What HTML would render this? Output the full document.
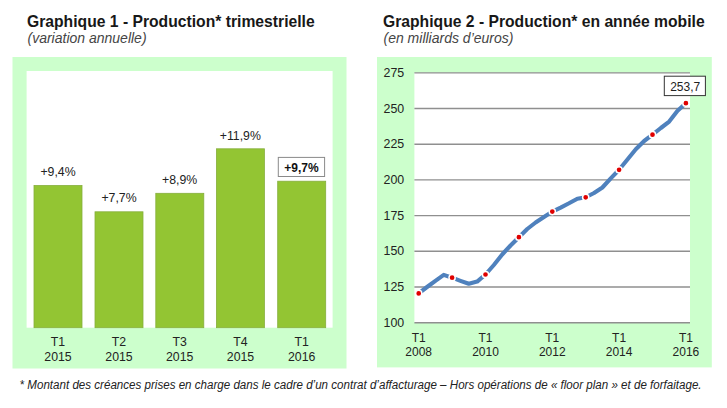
<!DOCTYPE html>
<html><head><meta charset="utf-8">
<style>
html,body{margin:0;padding:0;background:#fff;width:727px;height:408px;overflow:hidden}
svg{display:block}
text{font-family:"Liberation Sans",sans-serif}
</style></head><body>
<svg width="727" height="408" viewBox="0 0 727 408">
<rect x="0" y="0" width="727" height="408" fill="#fff"/>
<!-- titles -->
<text x="27" y="26.6" font-size="15.7" font-weight="bold" fill="#181818">Graphique 1 - Production* trimestrielle</text>
<text x="27.5" y="43.2" font-size="14" font-style="italic" fill="#454545">(variation annuelle)</text>
<text x="383" y="26.6" font-size="15.7" font-weight="bold" fill="#181818">Graphique 2 - Production* en année mobile</text>
<text x="383.5" y="43.2" font-size="14" font-style="italic" fill="#454545">(en milliards d’euros)</text>

<!-- left chart -->
<rect x="12.5" y="57" width="334" height="311.5" fill="#ccffcc"/>
<rect x="26.6" y="71" width="306" height="256.7" fill="#fff"/>
<g fill="#93c533" stroke="#86ae3c" stroke-width="0.8">
<rect x="34" y="185.5" width="48" height="142.2"/>
<rect x="95" y="211.8" width="48" height="115.9"/>
<rect x="155.8" y="193.3" width="48" height="134.4"/>
<rect x="216.4" y="148.8" width="48" height="178.9"/>
<rect x="277.7" y="181.2" width="48" height="146.5"/>
</g>
<g font-size="12.3" fill="#222" text-anchor="middle">
<text x="58" y="176.3">+9,4%</text>
<text x="119" y="201.7">+7,7%</text>
<text x="179.7" y="183.6">+8,9%</text>
<text x="240.3" y="139.6">+11,9%</text>
</g>
<rect x="278.3" y="157.4" width="46.3" height="19.1" fill="#fff" stroke="#8a8a8a" stroke-width="1"/>
<text x="301.5" y="171.8" font-size="12" font-weight="bold" fill="#111" text-anchor="middle">+9,7%</text>
<g font-size="12.3" fill="#222" text-anchor="middle">
<text x="58" y="346.4">T1</text><text x="58" y="360.5">2015</text>
<text x="119" y="346.4">T2</text><text x="119" y="360.5">2015</text>
<text x="179.7" y="346.4">T3</text><text x="179.7" y="360.5">2015</text>
<text x="240.5" y="346.4">T4</text><text x="240.5" y="360.5">2015</text>
<text x="301.7" y="346.4">T1</text><text x="301.7" y="360.5">2016</text>
</g>

<!-- right chart -->
<rect x="377" y="57" width="334.8" height="310.4" fill="#ccffcc"/>
<rect x="414.4" y="72.7" width="275.6" height="249.8" fill="#fff"/>
<g stroke="#8f8f8f" stroke-width="1.4">
<line x1="414.4" x2="690" y1="72.85" y2="72.85"/>
<line x1="414.4" x2="690" y1="108.54" y2="108.54"/>
<line x1="414.4" x2="690" y1="144.23" y2="144.23"/>
<line x1="414.4" x2="690" y1="179.92" y2="179.92"/>
<line x1="414.4" x2="690" y1="215.61" y2="215.61"/>
<line x1="414.4" x2="690" y1="251.30" y2="251.30"/>
<line x1="414.4" x2="690" y1="286.99" y2="286.99"/>
<line x1="414.4" x2="690" y1="322.68" y2="322.68"/>
</g>
<g font-size="12.4" fill="#222" text-anchor="end">
<text x="404.2" y="76.8">275</text>
<text x="404.2" y="112.5">250</text>
<text x="404.2" y="148.2">225</text>
<text x="404.2" y="183.9">200</text>
<text x="404.2" y="219.6">175</text>
<text x="404.2" y="255.3">150</text>
<text x="404.2" y="291">125</text>
<text x="404.2" y="326.6">100</text>
</g>
<g font-size="12" fill="#222" text-anchor="middle">
<text x="418.7" y="341.6">T1</text><text x="418.7" y="355.6">2008</text>
<text x="485.5" y="341.6">T1</text><text x="485.5" y="355.6">2010</text>
<text x="552.3" y="341.6">T1</text><text x="552.3" y="355.6">2012</text>
<text x="619.1" y="341.6">T1</text><text x="619.1" y="355.6">2014</text>
<text x="685.9" y="341.6">T1</text><text x="685.9" y="355.6">2016</text>
</g>
<polyline fill="none" stroke="#4f81bd" stroke-width="4.1" stroke-linejoin="round" stroke-linecap="round"
 points="418.70,293.40 427.05,287.00 435.40,280.80 443.75,274.90 452.10,277.70 460.45,280.80 468.80,283.80 477.15,281.60 485.50,274.50 493.85,265.00 502.20,254.50 510.55,245.50 518.90,237.20 527.25,229.00 535.60,222.50 543.95,217.00 552.30,211.60 560.65,207.60 569.00,203.30 577.35,198.70 585.70,197.30 594.05,193.00 602.40,187.50 610.75,178.40 619.10,169.80 627.45,159.50 635.80,149.20 644.15,141.00 652.50,134.70 660.85,128.00 669.20,121.60 677.55,110.80 685.90,103.20"/>
<g fill="#e00000" stroke="#fff" stroke-width="1.5">
<circle cx="418.7" cy="293.4" r="3.1"/>
<circle cx="452.1" cy="277.7" r="3.1"/>
<circle cx="485.5" cy="274.5" r="3.1"/>
<circle cx="518.9" cy="237.2" r="3.1"/>
<circle cx="552.3" cy="211.6" r="3.1"/>
<circle cx="585.7" cy="197.3" r="3.1"/>
<circle cx="619.1" cy="169.8" r="3.1"/>
<circle cx="652.5" cy="134.7" r="3.1"/>
<circle cx="685.9" cy="103.2" r="3.1"/>
</g>
<rect x="664.3" y="76.2" width="41.1" height="19.4" fill="#fff" stroke="#333" stroke-width="1"/>
<text x="685.2" y="90.9" font-size="12" fill="#222" text-anchor="middle">253,7</text>

<!-- footnote -->
<text x="19.6" y="389.3" font-size="12.5" font-style="italic" fill="#222" textLength="682" lengthAdjust="spacingAndGlyphs">* Montant des créances prises en charge dans le cadre d’un contrat d’affacturage – Hors opérations de « floor plan » et de forfaitage.</text>
</svg>
</body></html>
